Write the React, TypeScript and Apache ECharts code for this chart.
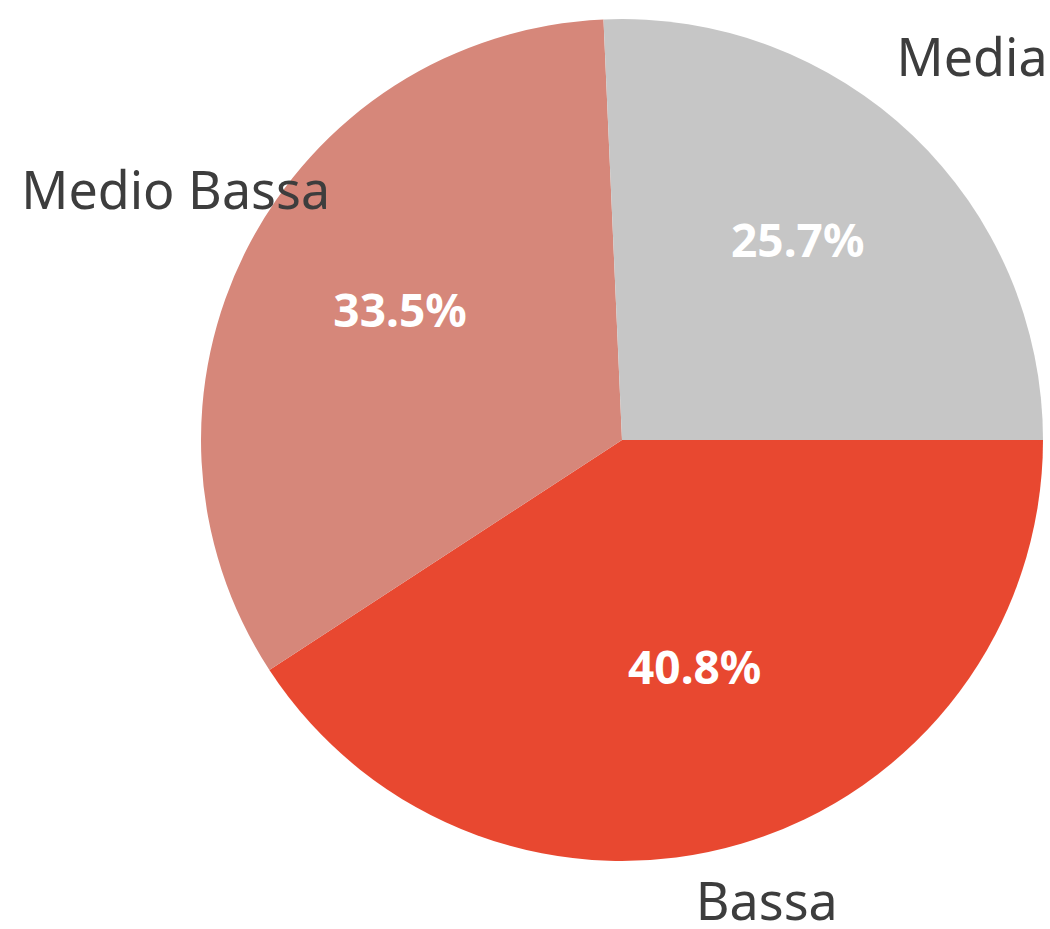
import React, { useEffect, useRef } from "react";
import * as echarts from "echarts";

const categories = ["Bassa", "Medio Bassa", "Media"];
const values = [40.8, 33.5, 25.7];
const colors = ["#E84830", "#D6877A", "#C6C6C6"];
// extra distance (px) beyond the rim at which each outer name label is centred
const OUTER_EXTRA = [66, 92, 97];
// small label nudges [dx, dy] in px
const OUTER_NUDGE = [[6, -7], [10, -17], [-8, -10]];
const INNER_NUDGE = [[-1, -22], [8, -13], [-3, -14]];

export default function App() {
  const ref = useRef<HTMLDivElement>(null);
  useEffect(() => {
    if (!ref.current) return;
    const chart = echarts.init(ref.current, null, { renderer: "svg" });
    const data = categories.map((name, i) => ({
      name,
      value: values[i],
      itemStyle: { color: colors[i] },
    }));
    chart.setOption({
      animation: false,
      series: [
        {
          type: "pie",
          center: [622, 440],
          radius: 421,
          startAngle: 0,
          clockwise: true,
          avoidLabelOverlap: false,
          data,
          label: {
            show: true,
            position: "outside",
            formatter: "{b}",
            color: "#3d3d3d",
            fontFamily: "Noto Sans",
            fontSize: 52,
            lineHeight: 44,
          },
          labelLine: {
            show: true,
            length: 10,
            length2: 0,
            lineStyle: { opacity: 0 },
          },
          labelLayout: (p: any) => {
            const pts = p.labelLinePoints;
            if (!pts || pts.length < 2) return {};
            const [x0, y0] = pts[0];
            const [x1, y1] = pts[1];
            const dx = x1 - x0;
            const dy = y1 - y0;
            const len = Math.sqrt(dx * dx + dy * dy) || 1;
            const e = OUTER_EXTRA[p.dataIndex];
            const n = OUTER_NUDGE[p.dataIndex];
            return {
              x: x0 + (dx / len) * e + n[0],
              y: y0 + (dy / len) * e + n[1],
              align: "center",
              verticalAlign: "middle",
            };
          },
          emphasis: { disabled: true },
        },
        {
          type: "pie",
          center: [622, 440],
          radius: [90, 421],
          startAngle: 0,
          clockwise: true,
          silent: true,
          percentPrecision: 1,
          data: categories.map((name, i) => ({ name, value: values[i] })),
          itemStyle: { color: "rgba(0,0,0,0)" },
          label: {
            show: true,
            position: "inside",
            formatter: "{d}%",
            color: "#ffffff",
            fontFamily: "Noto Sans",
            fontWeight: "bold",
            fontSize: 46,
          },
          labelLine: { show: false },
          labelLayout: (p: any) => {
            const r = p.labelRect;
            if (!r) return {};
            const n = INNER_NUDGE[p.dataIndex];
            return {
              x: r.x + r.width / 2 + n[0],
              y: r.y + r.height / 2 + n[1],
              align: "center",
              verticalAlign: "middle",
            };
          },
          emphasis: { disabled: true },
        },
      ],
    });
    return () => chart.dispose();
  }, []);
  return (
    <div
      ref={ref}
      style={{ position: "absolute", left: 0, top: 0, width: 1050, height: 929 }}
    />
  );
}
